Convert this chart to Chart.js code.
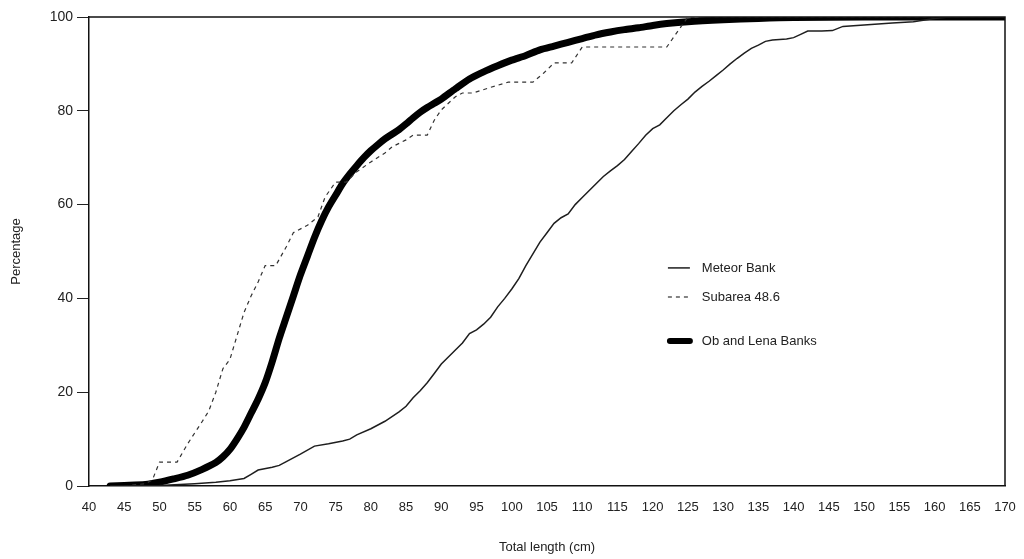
<!DOCTYPE html>
<html>
<head>
<meta charset="utf-8">
<script src="https://cdn.jsdelivr.net/npm/chart.js@4.4.1/dist/chart.umd.min.js"></script>
<style>
  html, body { margin: 0; padding: 0; background: #fff; }
  #wrap { width: 1024px; height: 559px; position: relative; }
</style>
</head>
<body>
<div id="wrap"><canvas id="c" width="1024" height="559"></canvas></div>
<script>
// ---- Data ----
const seriesNames = ["Meteor Bank", "Subarea 48.6", "Ob and Lena Banks"];

const meteorLength = [43,50,55,58,60,62,63,64,66,67,68,70,72,74,76,77,78,80,82,84,85,86,87,88,89,90,91,92,93,94,95,96,97,98,99,100,101,102,103,104,105,106,107,108,109,110,111,112,113,114,115,116,117,118,119,120,121,122,123,124,125,126,127,128,129,130,131,132,133,134,135,136,137,138,139,140,141,142,144,145.5,147,150,154,157,160,162,170];
const meteorPct    = [0,0.1,0.5,0.8,1.1,1.6,2.5,3.4,4,4.4,5.2,6.8,8.5,9,9.6,10,10.9,12.2,13.8,15.8,17,18.8,20.3,22,24,26,27.5,29,30.5,32.5,33.3,34.5,36,38.2,40,42,44.2,47,49.5,52,54,56,57.2,58,60,61.5,63,64.5,66,67.2,68.3,69.6,71.3,73,74.8,76.2,77,78.5,80,81.3,82.5,84,85.2,86.3,87.5,88.7,90,91.2,92.3,93.3,94,94.8,95.1,95.2,95.3,95.6,96.3,97,97,97.1,98,98.3,98.7,99,99.7,100,100];

const subareaLength = [45,48,49,50,52.5,54,56,57,58,59,60,61,62,63,64,65,66.5,68,69,71,72.5,73.5,75,76.5,78,80,82,83,85,86,88,89,90,92,93,94.5,97,99.5,103,104.5,106,108.5,110,122,124,125,170];
const subareaPct    = [0,0.5,1.3,5.1,5.1,9,13.6,16,20,25,27,32,37,40.5,43.5,47,47,51,54,55.6,57.4,61.6,64.8,64.8,67,69.1,71,72.3,73.8,74.8,74.8,78,80.2,83,83.8,83.8,85,86.1,86.1,88,90.2,90.2,93.6,93.6,97.9,100,100];

const obLenaLength = [43,45,48,50,52,54,56,58,59,60,61,62,63,64,65,66,67,68,69,70,71,72,73,74,75,76,77,78,79,80,81,82,83,84,85,86,87,88,89,90,92,94,96,98,100,102,104,106,108,110,112,114,116,118,120,122,125,130,135,140,150,160,170];
const obLenaPct    = [0,0.1,0.3,0.8,1.5,2.3,3.5,5,6.2,7.8,10,12.5,15.5,18.5,22,26.5,31.5,36,40.5,45,49,53,56.5,59.5,62,64.5,66.5,68.3,70,71.5,72.8,74,75,76,77.2,78.5,79.7,80.7,81.6,82.5,84.7,86.8,88.3,89.6,90.8,91.8,93,93.8,94.6,95.4,96.2,96.8,97.3,97.7,98.2,98.6,99,99.4,99.7,99.9,100,100,100];

const xTicks = [40,45,50,55,60,65,70,75,80,85,90,95,100,105,110,115,120,125,130,135,140,145,150,155,160,165,170];
const yTicks = [0,20,40,60,80,100];

const toXY = (xs, ys) => xs.map((x, i) => ({ x: x, y: ys[i] }));

// ---- Plugins ----
const frame = {
  id: 'frame',
  afterDatasetsDraw(chart) {
    const { ctx, chartArea: a } = chart;
    ctx.save();
    ctx.strokeStyle = '#111';
    ctx.lineWidth = 1.5;
    ctx.beginPath();
    ctx.moveTo(a.left, a.top);
    ctx.lineTo(a.right, a.top);
    ctx.lineTo(a.right, a.bottom);
    ctx.stroke();
    ctx.restore();
  }
};

const customLegend = {
  id: 'customLegend',
  afterDraw(chart) {
    const { ctx, chartArea: a } = chart;
    const h = a.bottom - a.top;
    const w = a.right - a.left;
    const x0 = a.left + w * 0.632, x1 = a.left + w * 0.656, tx = a.left + w * 0.669;
    const ys = [a.top + h * 0.535, a.top + h * 0.597, a.top + h * 0.691];
    ctx.save();
    ctx.font = '13px "Liberation Sans", Arial, sans-serif';
    ctx.fillStyle = '#222';
    ctx.textBaseline = 'middle';
    chart.data.datasets.forEach((ds, i) => {
      ctx.beginPath();
      ctx.strokeStyle = ds.borderColor;
      ctx.lineWidth = i === 2 ? 6 : ds.borderWidth;
      ctx.lineCap = i === 2 ? 'round' : 'butt';
      ctx.setLineDash(ds.borderDash || []);
      ctx.moveTo(x0 + (i === 2 ? 2 : 0), ys[i]);
      ctx.lineTo(x1, ys[i]);
      ctx.stroke();
      ctx.setLineDash([]);
      ctx.fillText(ds.label, tx, ys[i] + 0.5);
    });
    ctx.restore();
  }
};

const ctx = document.getElementById('c').getContext('2d');
new Chart(ctx, {
  type: 'line',
  data: {
    datasets: [
      {
        label: seriesNames[0],
        data: toXY(meteorLength, meteorPct),
        borderColor: '#1e1e1e',
        borderWidth: 1.5,
        pointRadius: 0,
        tension: 0,
        fill: false
      },
      {
        label: seriesNames[1],
        data: toXY(subareaLength, subareaPct),
        borderColor: '#333',
        borderWidth: 1.2,
        borderDash: [4, 4],
        pointRadius: 0,
        tension: 0,
        fill: false
      },
      {
        label: seriesNames[2],
        data: toXY(obLenaLength, obLenaPct),
        borderColor: '#000',
        borderWidth: 7,
        borderCapStyle: 'round',
        borderJoinStyle: 'round',
        pointRadius: 0,
        tension: 0.25,
        fill: false
      }
    ]
  },
  options: {
    responsive: false,
    animation: false,
    devicePixelRatio: 1,
    layout: { padding: { top: 17, right: 19, left: 5, bottom: 0 } },
    plugins: {
      legend: { display: false },
      tooltip: { enabled: false }
    },
    scales: {
      x: {
        type: 'linear',
        min: 40,
        max: 170,
        afterBuildTicks(scale) { scale.ticks = xTicks.map(v => ({ value: v })); },
        afterFit(scale) { scale.height = 73; scale.paddingLeft = 0; scale.paddingRight = 0; },
        grid: { display: false, drawTicks: false },
        border: { display: true, color: '#111', width: 1.5 },
        ticks: {
          color: '#222',
          padding: 14,
          maxRotation: 0,
          autoSkip: false,
          font: { family: '"Liberation Sans Narrow", "Liberation Sans", Arial, sans-serif', size: 13 }
        },
        title: {
          display: true,
          text: 'Total length (cm)',
          color: '#222',
          padding: { top: 20 },
          font: { family: '"Liberation Sans Narrow", "Liberation Sans", Arial, sans-serif', size: 13 }
        }
      },
      y: {
        type: 'linear',
        min: 0,
        max: 100,
        afterBuildTicks(scale) { scale.ticks = yTicks.map(v => ({ value: v })); },
        afterFit(scale) { scale.width = 84; scale.paddingTop = 0; scale.paddingBottom = 0; },
        grid: { drawOnChartArea: false, drawTicks: true, tickLength: 12, color: '#222', tickWidth: 1 },
        border: { display: true, color: '#111', width: 1.5 },
        ticks: {
          color: '#222',
          padding: 4,
          font: { family: '"Liberation Sans", Arial, sans-serif', size: 14 }
        },
        title: {
          display: true,
          text: 'Percentage',
          color: '#222',
          padding: { bottom: 0 },
          font: { family: '"Liberation Sans", Arial, sans-serif', size: 13 }
        }
      }
    }
  },
  plugins: [frame, customLegend]
});
</script>
</body>
</html>
